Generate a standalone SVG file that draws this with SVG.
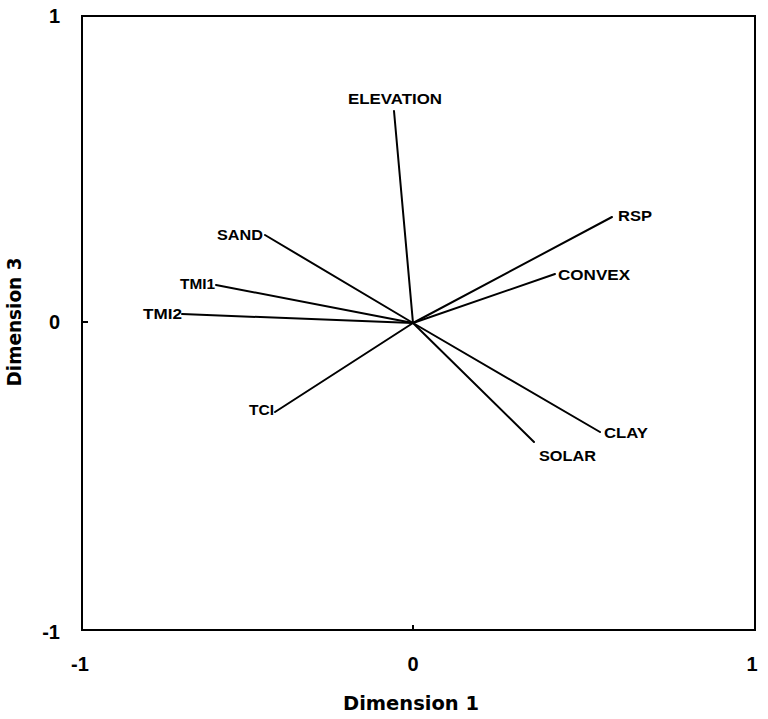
<svg xmlns="http://www.w3.org/2000/svg" width="768" height="719" viewBox="0 0 768 719">
<style>
.frame{fill:none;stroke:#000;stroke-width:2}
.vec{stroke:#000;stroke-width:2;stroke-linecap:round;fill:none}
.lbl{font-family:"Liberation Sans",Arial,sans-serif;font-size:14px;font-weight:bold;fill:#000}
.tick{font-family:"Liberation Sans",Arial,sans-serif;font-size:20px;font-weight:bold;fill:#000}
.axis{font-family:"DejaVu Sans","Liberation Sans",sans-serif;font-size:19px;font-weight:bold;fill:#000}
</style>
<rect width="768" height="719" fill="#fff"/>
<g id="plot-frame">
<rect class="frame" x="82" y="16" width="673" height="614"/>
<line class="frame" x1="82" y1="322" x2="88" y2="322"/>
<line class="frame" x1="413" y1="630" x2="413" y2="625"/>
</g>
<g id="axis-labels">
<text class="tick" x="60" y="23" text-anchor="end">1</text>
<text class="tick" x="60" y="329" text-anchor="end">0</text>
<text class="tick" x="60" y="639" text-anchor="end">-1</text>
<text class="tick" x="80" y="671" text-anchor="middle">-1</text>
<text class="tick" x="413" y="671" text-anchor="middle">0</text>
<text class="tick" x="752" y="671" text-anchor="middle">1</text>
<text class="axis" x="411" y="710" text-anchor="middle" textLength="136" lengthAdjust="spacingAndGlyphs">Dimension 1</text>
<text class="axis" x="0" y="0" text-anchor="middle" transform="translate(21,322) rotate(-90)" textLength="129" lengthAdjust="spacingAndGlyphs">Dimension 3</text>
</g>
<g id="connectors">
<line class="vec" x1="413" y1="323" x2="394" y2="111"/>
<line class="vec" x1="413" y1="323" x2="265" y2="235"/>
<line class="vec" x1="413" y1="323" x2="216" y2="285"/>
<line class="vec" x1="413" y1="323" x2="182" y2="314"/>
<line class="vec" x1="413" y1="323" x2="275" y2="412"/>
<line class="vec" x1="413" y1="323" x2="612" y2="217"/>
<line class="vec" x1="413" y1="323" x2="555" y2="274"/>
<line class="vec" x1="413" y1="323" x2="600" y2="432"/>
<line class="vec" x1="413" y1="323" x2="534" y2="442"/>
</g>
<g id="node-elevation"><text class="lbl" x="348" y="104" textLength="94" lengthAdjust="spacingAndGlyphs">ELEVATION</text></g>
<g id="node-sand"><text class="lbl" x="217" y="240" textLength="46" lengthAdjust="spacingAndGlyphs">SAND</text></g>
<g id="node-tmi1"><text class="lbl" x="180" y="289" textLength="35" lengthAdjust="spacingAndGlyphs">TMI1</text></g>
<g id="node-tmi2"><text class="lbl" x="143" y="319" textLength="39" lengthAdjust="spacingAndGlyphs">TMI2</text></g>
<g id="node-tci"><text class="lbl" x="249" y="415" textLength="25" lengthAdjust="spacingAndGlyphs">TCI</text></g>
<g id="node-rsp"><text class="lbl" x="618" y="221" textLength="34" lengthAdjust="spacingAndGlyphs">RSP</text></g>
<g id="node-convex"><text class="lbl" x="558" y="280" textLength="72" lengthAdjust="spacingAndGlyphs">CONVEX</text></g>
<g id="node-clay"><text class="lbl" x="604" y="438" textLength="44" lengthAdjust="spacingAndGlyphs">CLAY</text></g>
<g id="node-solar"><text class="lbl" x="539" y="461" textLength="57" lengthAdjust="spacingAndGlyphs">SOLAR</text></g>
</svg>
